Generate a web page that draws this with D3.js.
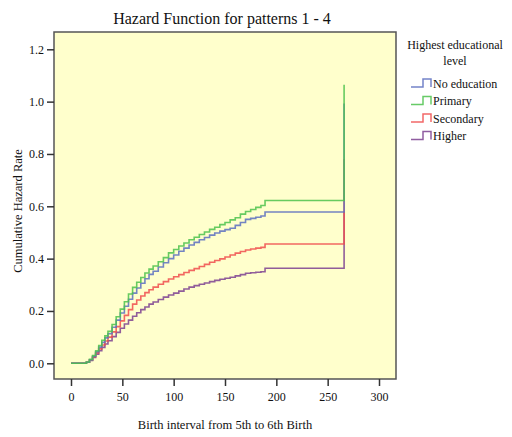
<!DOCTYPE html>
<html><head><meta charset="utf-8">
<script src="https://cdn.jsdelivr.net/npm/d3@7"></script>
<style>
html,body{margin:0;padding:0;background:#fff;}
text{font-family:"Liberation Serif","Times New Roman",serif;fill:#111;}
</style></head>
<body><svg id="c" width="512" height="437"></svg>
<script>
const times = [0, 12, 15, 18, 21, 24, 27, 30, 33, 36, 40, 44, 48, 52, 56, 60, 64, 68, 72, 76, 80, 85, 90, 95, 100, 105, 110, 115, 120, 125, 130, 135, 140, 145, 150, 155, 160, 165, 170, 175, 180, 185, 189, 266];
const noEducation = [0, 0, .004, .013, .027, .044, .062, .08, .097, .113, .138, .165, .192, .218, .245, .268, .288, .306, .323, .34, .352, .368, .384, .4, .414, .428, .44, .452, .462, .472, .481, .49, .498, .505, .511, .516, .527, .538, .55, .554, .558, .563, .578, .993];
const primary = [0, 0, .005, .015, .03, .048, .068, .088, .105, .122, .148, .178, .207, .235, .265, .29, .31, .328, .345, .36, .372, .388, .404, .422, .435, .448, .46, .472, .482, .492, .502, .512, .52, .53, .538, .548, .556, .57, .58, .588, .596, .603, .622, 1.065];
const secondary = [0, 0, .004, .012, .025, .04, .055, .07, .085, .1, .12, .14, .162, .183, .205, .226, .242, .257, .27, .281, .291, .302, .312, .322, .331, .339, .347, .355, .362, .37, .378, .386, .393, .399, .406, .414, .421, .427, .433, .437, .44, .443, .456, .78];
const higher = [0, 0, .004, .011, .022, .035, .048, .061, .074, .086, .102, .118, .134, .15, .165, .18, .193, .205, .215, .226, .234, .244, .253, .261, .268, .276, .284, .291, .297, .302, .307, .312, .317, .321, .325, .329, .334, .339, .344, .346, .348, .35, .363, .58];
const seriesNames = ["No education", "Primary", "Secondary", "Higher"];
const seriesColors = ["#5a6ec0", "#4cc24c", "#f04c4c", "#7d4190"];
const xTicks = [0, 50, 100, 150, 200, 250, 300];
const yTicks = [0, 0.2, 0.4, 0.6, 0.8, 1.0, 1.2];

const svg = d3.select("#c");
const x = d3.scaleLinear().domain([0, 300]).range([71, 379]);
const y = d3.scaleLinear().domain([0, 1.2]).range([363.3, 49.3]);
const frame = {x0: 54, x1: 396, y0: 32, y1: 379};

svg.append("rect").attr("x", frame.x0).attr("y", frame.y0)
  .attr("width", frame.x1 - frame.x0).attr("height", frame.y1 - frame.y0)
  .attr("fill", "#ffffcc").attr("stroke", "none");

const data = [noEducation, primary, secondary, higher];
const line = d3.line().x(d => x(d[0])).y(d => y(d[1])).curve(d3.curveStepAfter);
[3, 2, 0, 1].forEach(i => {
  const pts = times.map((t, k) => [t, data[i][k]]);
  svg.append("path").attr("d", line(pts)).attr("fill", "none")
    .attr("stroke", seriesColors[i]).attr("stroke-width", 1.6).attr("stroke-opacity", 0.85);
});

svg.append("rect").attr("x", frame.x0).attr("y", frame.y0)
  .attr("width", frame.x1 - frame.x0).attr("height", frame.y1 - frame.y0)
  .attr("fill", "none").attr("stroke", "#555").attr("stroke-width", 1.5);

const yAxis = svg.append("g").attr("transform", `translate(${frame.x0},0)`)
  .call(d3.axisLeft(y).tickValues(yTicks).tickFormat(d3.format(".1f")).tickSize(7).tickPadding(3));
const xAxis = svg.append("g").attr("transform", `translate(0,${frame.y1})`)
  .call(d3.axisBottom(x).tickValues(xTicks).tickFormat(d3.format("d")).tickSize(7).tickPadding(6));
[yAxis, xAxis].forEach(g => {
  g.select(".domain").remove();
  g.selectAll("line").attr("stroke", "#333").attr("stroke-width", 1.5);
  g.selectAll("text").style("font-family", '"Liberation Serif",serif').style("font-size", "12px").attr("fill", "#111");
});

svg.append("text").attr("x", 222).attr("y", 24).attr("text-anchor", "middle")
  .style("font-size", "16px").text("Hazard Function for patterns 1 - 4");
svg.append("text").attr("x", 225).attr("y", 429).attr("text-anchor", "middle")
  .style("font-size", "12.5px").text("Birth interval from 5th to 6th Birth");
svg.append("text").attr("transform", "translate(22,211) rotate(-90)").attr("text-anchor", "middle")
  .style("font-size", "12.5px").text("Cumulative Hazard Rate");

svg.append("text").attr("x", 455).attr("y", 49).attr("text-anchor", "middle")
  .style("font-size", "12px").text("Highest educational");
svg.append("text").attr("x", 455).attr("y", 65).attr("text-anchor", "middle")
  .style("font-size", "12px").text("level");
seriesNames.forEach((n, i) => {
  const cy = 83 + i * 17.5;
  const gx = 411;
  svg.append("path")
    .attr("d", `M${gx},${cy + 4}H${gx + 12}V${cy - 4}H${gx + 20}V${cy + 4}`)
    .attr("fill", "none").attr("stroke", seriesColors[i]).attr("stroke-width", 1.5).attr("stroke-opacity", 0.85);
  svg.append("text").attr("x", gx + 22).attr("y", cy + 4.5)
    .style("font-size", "12px").text(n);
});
</script></body></html>
